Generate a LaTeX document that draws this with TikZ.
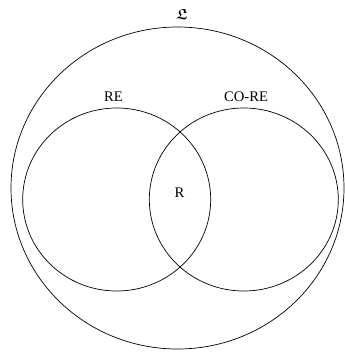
\documentclass[tikz,border=0pt]{standalone}
\usepackage{amsmath,amssymb}
\usepackage{fontspec}
\setmainfont{Liberation Serif}
\usepackage{tikz}

\begin{document}
\begin{tikzpicture}[x=0.03cm, y=-0.03cm, line width=0.6pt,
    setlabel/.style={font=\fontsize{12.5}{14}\selectfont, inner sep=0pt}]
    \useasboundingbox (0,0) rectangle (345,358);
    \draw (177.5,188) ellipse [x radius=166.5, y radius=161];
    \draw (116.7,199.5) ellipse [x radius=94, y radius=91.5];
    \draw (243.8,199.5) ellipse [x radius=94.5, y radius=91.5];
    \node[setlabel] (lang) at (182,14) {$\boldsymbol{\mathfrak{L}}$};
    \node[setlabel] (re) at (113.5,96.5) {RE};
    \node[setlabel] (core) at (246,96.5) {CO-RE};
    \node[setlabel] (rec) at (179.5,192.5) {R};
  \end{tikzpicture}
\end{document}
